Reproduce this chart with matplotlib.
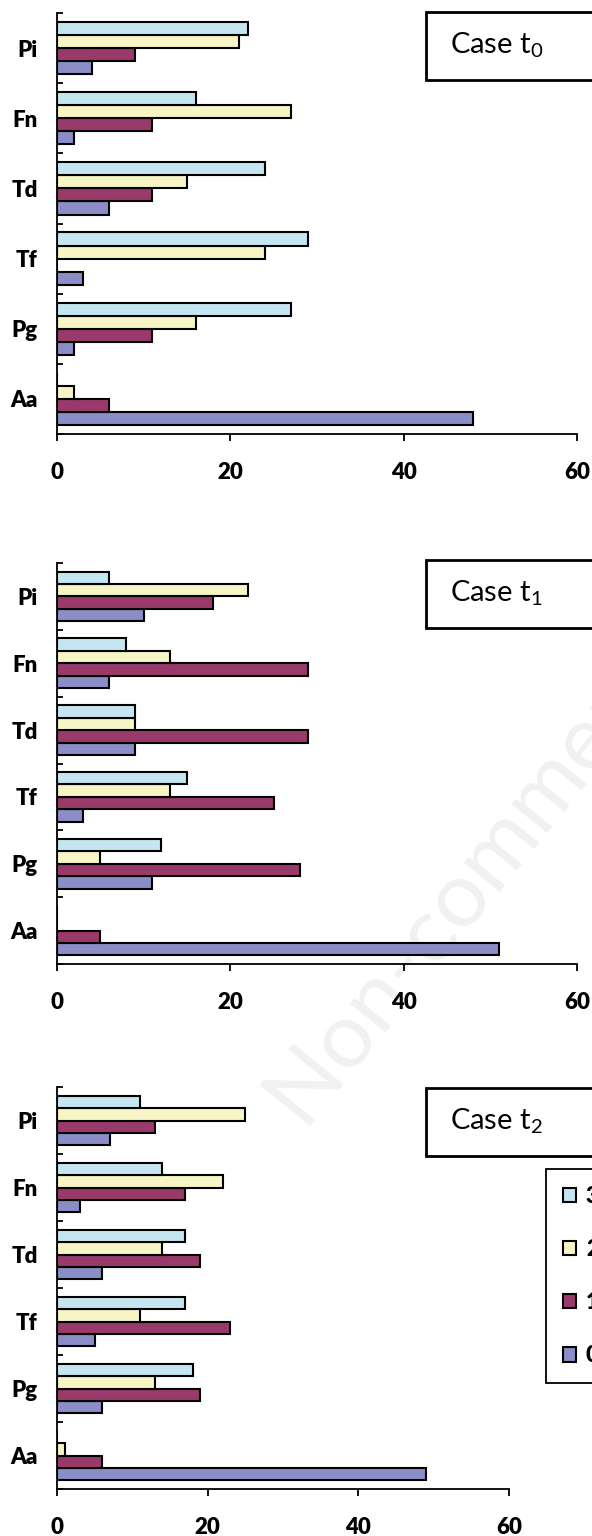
import matplotlib
matplotlib.use('Agg')
import matplotlib.pyplot as plt
from matplotlib.patches import Rectangle
import numpy as np

plt.rcParams['font.family'] = ['Lato', 'DejaVu Sans']
plt.rcParams['mathtext.fontset'] = 'custom'
plt.rcParams['mathtext.rm'] = 'Lato'

W, H = 592, 1536

CATEGORIAS = ['Aa', 'Pg', 'Tf', 'Td', 'Fn', 'Pi']
SERIES = ['0', '1', '2', '3']
CORES = ['#8B8DC7', '#993A6B', '#F7F5C6', '#C5E6F0']

# valores por série, na ordem de CATEGORIAS (Aa .. Pi)
t0_s0 = [48, 2, 3, 6, 2, 4]
t0_s1 = [6, 11, 0, 11, 11, 9]
t0_s2 = [2, 16, 24, 15, 27, 21]
t0_s3 = [0, 27, 29, 24, 16, 22]

t1_s0 = [51, 11, 3, 9, 6, 10]
t1_s1 = [5, 28, 25, 29, 29, 18]
t1_s2 = [0, 5, 13, 9, 13, 22]
t1_s3 = [0, 12, 15, 9, 8, 6]

t2_s0 = [49, 6, 5, 6, 3, 7]
t2_s1 = [6, 19, 23, 19, 17, 13]
t2_s2 = [1, 13, 11, 14, 22, 25]
t2_s3 = [0, 18, 17, 17, 14, 11]

XTICKS = [0, 20, 40, 60]

fig = plt.figure(figsize=(W / 100, H / 100), dpi=100)


def px_axes(left, top, right, bottom):
    return fig.add_axes([left / W, 1 - bottom / H,
                         (right - left) / W, (bottom - top) / H])


def painel(ax, series, caso, box_top):
    y = np.arange(len(CATEGORIAS))
    h = 0.186
    barras = []
    for k, vals in enumerate(series):
        b = ax.barh(y + (k - 1.5) * h, vals, h, color=CORES[k],
                    edgecolor='black', linewidth=1.5, label=SERIES[k])
        barras.append(b)
    ax.set_xlim(0, 60)
    ax.set_ylim(-0.5, len(CATEGORIAS) - 0.5)
    ax.set_xticks(XTICKS)
    ax.set_yticks(y)
    ax.set_yticklabels(CATEGORIAS)
    ax.set_yticks(np.arange(-0.5, len(CATEGORIAS)), minor=True)
    ax.tick_params(axis='y', which='major', length=0, pad=14)
    ax.tick_params(axis='y', which='minor', direction='in', length=4,
                   width=1.3)
    ax.tick_params(axis='x', direction='out', length=5, width=1.3, pad=15)
    for lab in ax.get_xticklabels() + ax.get_yticklabels():
        lab.set_fontweight('heavy')
        lab.set_fontsize(16)
    for s in ('top', 'right'):
        ax.spines[s].set_visible(False)
    for s in ('left', 'bottom'):
        ax.spines[s].set_linewidth(1.3)

    # caixa com o nome do caso, cortada na borda direita
    fig.patches.append(Rectangle((426 / W, 1 - (box_top + 68) / H),
                                 0.5, 68 / H, transform=fig.transFigure,
                                 facecolor='white', edgecolor='black',
                                 linewidth=2.0, zorder=5))
    fig.text(450 / W, 1 - (box_top + 41) / H, caso, fontsize=21,
             ha='left', va='baseline', zorder=6)
    return barras


# marca d'água clara, atrás dos eixos
fig.text(306 / W, 1 - 1132 / H, 'Non-commercial use only', fontsize=66,
         rotation=51, color='#f1f1f1', ha='left', va='baseline',
         rotation_mode='anchor', zorder=-1)

ax1 = px_axes(57, 13, 577, 434)
painel(ax1, [t0_s0, t0_s1, t0_s2, t0_s3], 'Case t$_\\mathregular{0}$', 12)

ax2 = px_axes(57, 563, 577, 964)
painel(ax2, [t1_s0, t1_s1, t1_s2, t1_s3], 'Case t$_\\mathregular{1}$', 560)

ax3 = px_axes(57, 1087, 509, 1489)
barras = painel(ax3, [t2_s0, t2_s1, t2_s2, t2_s3],
                'Case t$_\\mathregular{2}$', 1088)

for ax in (ax1, ax2, ax3):
    ax.patch.set_alpha(0)

leg = fig.legend(barras[::-1], SERIES[::-1], loc='upper left',
                 bbox_to_anchor=(546 / W, 1 - 1169 / H),
                 bbox_transform=fig.transFigure, frameon=True,
                 fancybox=False, edgecolor='black', framealpha=1,
                 prop={'weight': 'heavy', 'size': 16},
                 handlelength=0.6, handleheight=0.6, handletextpad=0.45,
                 labelspacing=1.45, borderpad=0.75, borderaxespad=0)
leg.get_frame().set_linewidth(1.3)

fig.savefig('out.png', dpi=100)
